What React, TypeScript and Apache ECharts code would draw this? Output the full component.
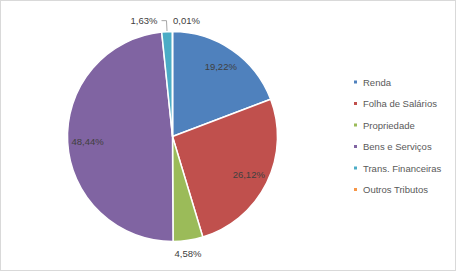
import React, { useEffect, useRef } from "react";
import * as echarts from "echarts";

const categories = ["Renda", "Folha de Salários", "Propriedade", "Bens e Serviços", "Trans. Financeiras", "Outros Tributos"];
const values = [19.22, 26.12, 4.58, 48.44, 1.63, 0.01];
const colors = ["#4F81BD", "#C0504D", "#9BBB59", "#8064A2", "#4BACC6", "#F79646"];
const insideLabel = [true, true, false, true, false, false];

const fmt = (v: number) => `${v.toFixed(2).replace(".", ",")}%`;
const FONT = "Liberation Sans";

export default function App() {
  const ref = useRef<HTMLDivElement>(null);
  useEffect(() => {
    const chart = echarts.init(ref.current!, undefined, { renderer: "svg" });
    const cx = 172.5;
    const cy = 136.5;
    const R = 105;
    const mainData = categories.map((name, i) => ({
      name,
      value: values[i],
      itemStyle: { color: colors[i] },
      label: { show: !insideLabel[i] },
      labelLine: { show: i === 4 },
    }));
    const overlayData = categories.map((name, i) => ({
      name,
      value: values[i],
      label: { show: insideLabel[i] },
    }));
    chart.setOption({
      animation: false,
      backgroundColor: "#ffffff",
      color: colors,
      legend: {
        orient: "vertical",
        left: 347,
        top: 71,
        padding: 5,
        itemWidth: 5,
        itemHeight: 5,
        itemGap: 9.5,
        icon: "rect",
        selectedMode: false,
        data: categories,
        textStyle: { fontFamily: FONT, fontSize: 9.5, color: "#595959", lineHeight: 12 },
      },
      series: [
        {
          type: "pie",
          center: [cx, cy],
          radius: [0, R],
          startAngle: 90,
          clockwise: true,
          avoidLabelOverlap: false,
          itemStyle: { borderColor: "#ffffff", borderWidth: 1.5 },
          label: {
            position: "outside",
            formatter: (p: any) => fmt(p.value),
            fontFamily: FONT,
            fontSize: 9.5,
            color: "#404040",
            distanceToLabelLine: 4,
          },
          labelLine: { length: 11, length2: 5, lineStyle: { color: "#A6A6A6", width: 1 } },
          labelLayout: (p: any) => {
            if (p.dataIndex === 2) return { x: 188, y: 253, align: "center", verticalAlign: "middle" };
            if (p.dataIndex === 5) return { x: 173, y: 20.5, align: "left", verticalAlign: "middle" };
            return {};
          },
          emphasis: { disabled: true },
          data: mainData,
        },
        {
          type: "pie",
          center: [cx, cy],
          radius: [59, R],
          startAngle: 90,
          clockwise: true,
          silent: true,
          avoidLabelOverlap: false,
          itemStyle: { color: "rgba(0,0,0,0)", borderWidth: 0 },
          label: {
            position: "inside",
            formatter: (p: any) => fmt(p.value),
            fontFamily: FONT,
            fontSize: 9.5,
            color: "#404040",
          },
          labelLine: { show: false },
          emphasis: { disabled: true },
          data: overlayData,
        },
      ],
    });
    return () => chart.dispose();
  }, []);
  return (
    <div style={{ position: "fixed", left: 0, top: 0, width: 457, height: 274, background: "#fff" }}>
      <div
        style={{
          position: "absolute",
          left: 0,
          top: 0,
          width: 456,
          height: 271,
          boxSizing: "border-box",
          border: "1px solid #D9D9D9",
          pointerEvents: "none",
          zIndex: 2,
        }}
      />
      <div ref={ref} style={{ position: "absolute", left: 0, top: 0, width: 457, height: 274 }} />
    </div>
  );
}
